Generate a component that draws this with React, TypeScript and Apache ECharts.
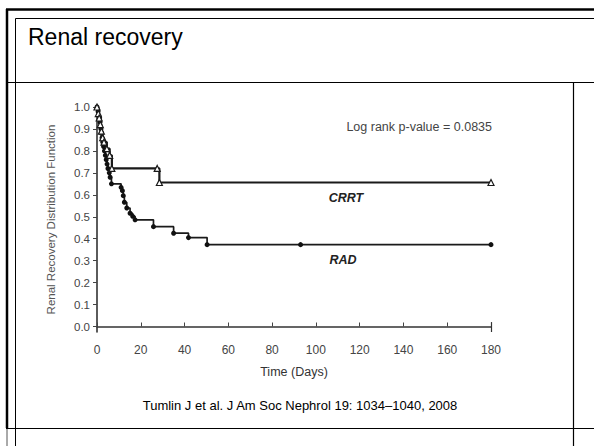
import React, { useEffect, useRef } from "react";
import * as echarts from "echarts";

const X_TICKS = [0, 20, 40, 60, 80, 100, 120, 140, 160, 180];
const Y_TICKS = [0, 0.1, 0.2, 0.3, 0.4, 0.5, 0.6, 0.7, 0.8, 0.9, 1.0];

const CRRT_DAYS = [0, 0.6, 1.0, 1.5, 2.0, 2.6, 3.2, 4.5, 5.8, 6.8, 27.5, 28.5, 180];
const CRRT_VALUES = [1.0, 0.97, 0.95, 0.92, 0.89, 0.86, 0.84, 0.81, 0.78, 0.72, 0.72, 0.656, 0.656];

const RAD_DAYS = [0, 0.5, 0.9, 1.2, 1.4, 1.6, 1.8, 2.0, 2.3, 2.6, 3.0, 3.4, 3.8, 4.2, 4.6, 5.0, 5.6, 6.0, 6.6,
  11.0, 11.6, 12.0, 12.5, 13.6, 15.1, 16.3, 17.4, 25.8, 35.0, 41.8, 50.3, 93.0, 180];
const RAD_VALUES = [1.0, 0.98, 0.96, 0.95, 0.93, 0.91, 0.9, 0.88, 0.86, 0.84, 0.82, 0.8, 0.78, 0.76, 0.74, 0.72, 0.7, 0.68, 0.65,
  0.634, 0.619, 0.596, 0.566, 0.54, 0.516, 0.502, 0.486, 0.455, 0.425, 0.405, 0.373, 0.373, 0.373];

const TITLE = "Renal recovery";
const CITATION = "Tumlin J et al. J Am Soc Nephrol 19: 1034\u20131040, 2008";
const PVALUE = "Log rank p-value = 0.0835";

const FONT = "Liberation Sans, Arial, Helvetica, sans-serif";

export default function App() {
  const ref = useRef<HTMLDivElement>(null);
  useEffect(() => {
    if (!ref.current) return;
    const chart = echarts.init(ref.current, undefined, { renderer: "svg" });
    const crrt = CRRT_DAYS.map((d, i) => [d, CRRT_VALUES[i]]);
    const rad = RAD_DAYS.map((d, i) => [d, RAD_VALUES[i]]);
    const frame = (x1: number, y1: number, x2: number, y2: number, w: number, c = "#000") => ({
      type: "line",
      shape: { x1, y1, x2, y2 },
      style: { stroke: c, lineWidth: w },
      silent: true,
    });
    chart.setOption({
      animation: false,
      backgroundColor: "#fff",
      textStyle: { fontFamily: FONT },
      grid: { left: 97, right: 103, top: 107, bottom: 114 },
      xAxis: {
        type: "value",
        min: 0,
        max: 180,
        interval: 20,
        axisLine: { show: true, lineStyle: { color: "#333", width: 1.6 } },
        axisTick: { show: true, inside: true, length: 4, lineStyle: { color: "#444" } },
        axisLabel: { color: "#444", fontSize: 12, margin: 12, fontFamily: FONT },
        splitLine: { show: false },
        name: "Time (Days)",
        nameLocation: "middle",
        nameGap: 33,
        nameTextStyle: { color: "#333", fontSize: 12.5, fontFamily: FONT },
      },
      yAxis: {
        type: "value",
        min: -0.025,
        max: 1.0,
        axisLine: { show: true, lineStyle: { color: "#333", width: 1.6 } },
        axisTick: { show: true, inside: false, length: 4, customValues: Y_TICKS, lineStyle: { color: "#444" } },
        axisLabel: {
          color: "#444",
          fontSize: 11.5,
          margin: 7,
          customValues: Y_TICKS,
          formatter: (v: number) => v.toFixed(1),
          fontFamily: FONT,
        },
        splitLine: { show: false },
        name: "Renal Recovery Distribution Function",
        nameLocation: "middle",
        nameGap: 40,
        nameRotate: 90,
        nameTextStyle: { color: "#555", fontSize: 11.5, fontFamily: FONT },
      },
      series: [
        {
          name: "CRRT",
          type: "line",
          step: "end",
          data: crrt,
          lineStyle: { color: "#1a1a1a", width: 2.2 },
          symbol: "triangle",
          symbolSize: 6,
          itemStyle: { color: "#fff", borderColor: "#1a1a1a", borderWidth: 1.2 },
          showAllSymbol: true,
          z: 3,
        },
        {
          name: "RAD",
          type: "line",
          step: "end",
          data: rad,
          lineStyle: { color: "#1a1a1a", width: 1.7 },
          symbol: "circle",
          symbolSize: 5,
          itemStyle: { color: "#111" },
          showAllSymbol: true,
          z: 2,
          markLine: {
            silent: true,
            symbol: "none",
            label: { show: false },
            lineStyle: { color: "#333", width: 1.2, type: "solid" },
            data: [[{ coord: [180, -0.025] }, { coord: [180, 0.02] }]],
          },
        },
      ],
      graphic: [
        frame(6, 9.5, 594, 9.5, 2.5),
        frame(7, 9, 7, 428, 2.5),
        frame(7, 428, 7, 446, 1, "#555"),
        frame(15.5, 18.5, 594, 18.5, 1),
        frame(15.5, 18.5, 15.5, 446, 1),
        frame(6, 82.5, 594, 82.5, 1.2),
        frame(573.5, 82.5, 573.5, 446, 1.2),
        frame(6, 428.5, 594, 428.5, 1.2),
        {
          type: "text",
          x: 28,
          y: 37,
          style: { text: TITLE, fontSize: 23, fill: "#000", fontFamily: FONT, verticalAlign: "middle", align: "left" },
        },
        {
          type: "text",
          x: 300,
          y: 405,
          style: { text: CITATION, fontSize: 13, fill: "#000", fontFamily: FONT, verticalAlign: "middle", align: "center" },
        },
        {
          type: "text",
          x: 492,
          y: 127,
          style: { text: PVALUE, fontSize: 12.5, fill: "#444", fontFamily: FONT, verticalAlign: "middle", align: "right" },
        },
        {
          type: "text",
          x: 346,
          y: 198,
          style: { text: "CRRT", fontSize: 12.5, fontWeight: "bold", fontStyle: "italic", fill: "#222", fontFamily: FONT, verticalAlign: "middle", align: "center" },
        },
        {
          type: "text",
          x: 343,
          y: 260,
          style: { text: "RAD", fontSize: 12.5, fontWeight: "bold", fontStyle: "italic", fill: "#222", fontFamily: FONT, verticalAlign: "middle", align: "center" },
        },
      ],
    });
    return () => chart.dispose();
  }, []);
  return (
    <div
      ref={ref}
      style={{ position: "absolute", left: 0, top: 0, width: 594, height: 446 }}
    />
  );
}
